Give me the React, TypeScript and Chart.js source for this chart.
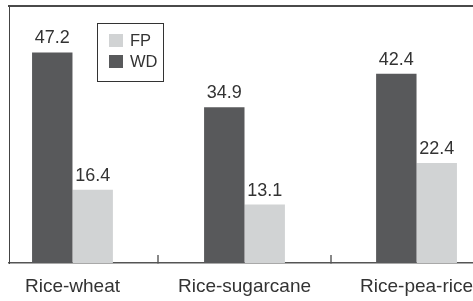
import React, { useEffect, useRef } from "react";
import { Chart, registerables } from "chart.js";

Chart.register(...registerables);

const categories = ["Rice-wheat", "Rice-sugarcane", "Rice-pea-rice"];
const wdValues = [47.2, 34.9, 42.4];
const fpValues = [16.4, 13.1, 22.4];
const seriesNames = ["WD", "FP"];
const seriesColors = ["#58595b", "#d1d3d4"];

const FONT = "'Liberation Sans', Arial, sans-serif";
const TEXT = "#333333";

export default function App() {
  const ref = useRef<HTMLCanvasElement>(null);

  useEffect(() => {
    const canvas = ref.current;
    if (!canvas) return;

    const topFrame = {
      id: "topFrame",
      afterDraw(chart: any) {
        const ctx = chart.ctx;
        const a = chart.chartArea;
        ctx.save();
        ctx.fillStyle = "#4a4a4a";
        ctx.fillRect(Math.floor(a.left) - 1, Math.floor(a.top) - 1, chart.width, 2);
        ctx.restore();
      },
    };

    const valueLabels = {
      id: "valueLabels",
      afterDatasetsDraw(chart: any) {
        const ctx = chart.ctx;
        ctx.save();
        ctx.font = `18px ${FONT}`;
        ctx.fillStyle = TEXT;
        ctx.textAlign = "center";
        ctx.textBaseline = "alphabetic";
        chart.data.datasets.forEach((ds: any, di: number) => {
          const meta = chart.getDatasetMeta(di);
          meta.data.forEach((el: any, i: number) => {
            const v = ds.data[i].y;
            ctx.fillText(v.toFixed(1), el.x, el.y - 9);
          });
        });
        ctx.restore();
      },
    };

    const insideLegend = {
      id: "insideLegend",
      afterDraw(chart: any) {
        const ctx = chart.ctx;
        const area = chart.chartArea;
        const bx = area.left + 88;
        const by = area.top + 17;
        const bw = 66;
        const bh = 58;
        ctx.save();
        ctx.fillStyle = "#ffffff";
        ctx.fillRect(bx, by, bw, bh);
        ctx.strokeStyle = "#333333";
        ctx.lineWidth = 1;
        ctx.strokeRect(bx + 0.5, by + 0.5, bw, bh);
        const items = chart.data.datasets
          .map((ds: any) => ({ label: ds.label, color: ds.backgroundColor }))
          .reverse();
        ctx.font = `16.5px ${FONT}`;
        ctx.textAlign = "left";
        ctx.textBaseline = "middle";
        items.forEach((it: any, k: number) => {
          const sy = by + 11 + k * 21;
          ctx.fillStyle = it.color;
          ctx.fillRect(bx + 12, sy, 14, 13);
          ctx.fillStyle = TEXT;
          ctx.fillText(it.label, bx + 33, sy + 7);
        });
        ctx.restore();
      },
    };

    const chart = new Chart(canvas, {
      type: "bar",
      data: {
        datasets: [
          {
            label: seriesNames[0],
            data: categories.map((_, i) => ({ x: i, y: wdValues[i] })),
            backgroundColor: seriesColors[0],
            categoryPercentage: 0.47,
            barPercentage: 1,
          },
          {
            label: seriesNames[1],
            data: categories.map((_, i) => ({ x: i, y: fpValues[i] })),
            backgroundColor: seriesColors[1],
            categoryPercentage: 0.47,
            barPercentage: 1,
          },
        ],
      },
      options: {
        responsive: false,
        animation: false,
        devicePixelRatio: 1,
        layout: { padding: { left: 9, top: 6, right: 0, bottom: 0 } },
        plugins: {
          legend: { display: false },
          tooltip: { enabled: false },
        },
        scales: {
          x: {
            type: "linear",
            position: "bottom",
            offset: false,
            min: -0.369,
            max: 2.834,
            afterBuildTicks: (s: any) => {
              s.ticks = categories.map((_, i) => ({ value: i }));
            },
            ticks: {
              callback: (v: any) => categories[v] ?? "",
              padding: 0,
              color: TEXT,
              maxRotation: 0,
              autoSkip: false,
              font: { family: FONT, size: 19, lineHeight: "64px" },
            },
            grid: {
              offset: true,
              drawOnChartArea: false,
              drawTicks: true,
              tickLength: -8,
              color: "#888888",
              lineWidth: 2,
            },
            border: { display: true, color: "#555555", width: 1.5 },
          },
          y: {
            min: 0,
            max: 57.6,
            ticks: { display: false },
            grid: { display: false, drawTicks: false },
            border: { display: true, color: "#444444", width: 1 },
          },
        },
      } as any,
      plugins: [valueLabels, insideLegend, topFrame],
    });

    return () => chart.destroy();
  }, []);

  return (
    <div
      style={{
        position: "fixed",
        left: 0,
        top: 0,
        width: 473,
        height: 301,
        overflow: "hidden",
        background: "#ffffff",
      }}
    >
      <canvas ref={ref} width={560} height={319} style={{ display: "block" }} />
    </div>
  );
}
